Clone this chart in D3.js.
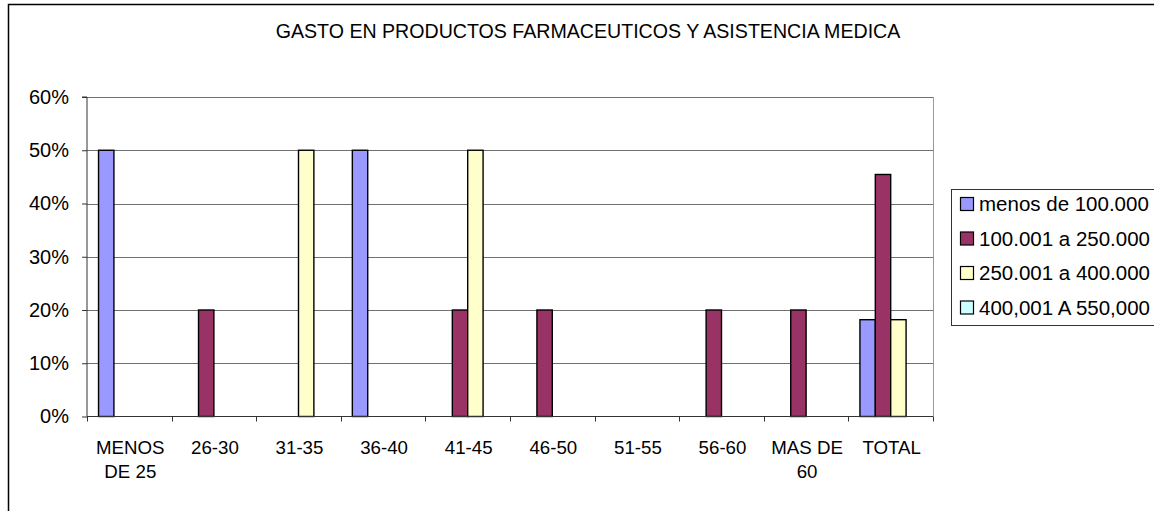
<!DOCTYPE html>
<html>
<head>
<meta charset="utf-8">
<script src="https://cdn.jsdelivr.net/npm/d3@7"></script>
<style>
  html, body { margin: 0; padding: 0; background: #fff; }
  svg { display: block; font-family: "Liberation Sans", Arial, sans-serif; }
</style>
</head>
<body>
<svg id="chart" width="1154" height="511"></svg>
<script>
// Age groups along the x axis (multi-line labels split on "\n")
const categories = ["MENOS\nDE 25", "26-30", "31-35", "36-40", "41-45", "46-50", "51-55", "56-60", "MAS DE\n60", "TOTAL"];

// Income bands (one series each)
const seriesNames = ["menos de 100.000", "100.001 a 250.000", "250.001 a 400.000", "400,001 A 550,000"];
const seriesColors = ["#9999FF", "#993366", "#FFFFCC", "#CCFFFF"];

// Share of respondents per age group, by income band
const menos100 = [0.50, 0, 0, 0.50, 0, 0, 0, 0, 0, 0.1818];
const de100a250 = [0, 0.20, 0, 0, 0.20, 0.20, 0, 0.20, 0.20, 0.4545];
const de250a400 = [0, 0, 0.50, 0, 0.50, 0, 0, 0, 0, 0.1818];
const de400a550 = [0, 0, 0, 0, 0, 0, 0, 0, 0, 0];

const yTicks = [0, 0.1, 0.2, 0.3, 0.4, 0.5, 0.6];
const title = "GASTO EN PRODUCTOS FARMACEUTICOS Y ASISTENCIA MEDICA";

const values = [menos100, de100a250, de250a400, de400a550];

const svg = d3.select("#chart");

// Outer chart frame
svg.append("rect")
  .attr("x", 8.5).attr("y", 4.5)
  .attr("width", 1160).attr("height", 520)
  .attr("fill", "#fff").attr("stroke", "#000").attr("stroke-width", 1.5);

const plot = { left: 87, right: 933, top: 97, bottom: 416.5 };

const x0 = d3.scaleBand()
  .domain(categories)
  .range([plot.left, plot.right])
  .paddingInner(0).paddingOuter(0);

// 150% gap: 4 bars + 1.5 bar widths of gap per category
const x1 = d3.scaleBand()
  .domain(d3.range(seriesNames.length))
  .range([0, x0.bandwidth()])
  .paddingInner(0)
  .paddingOuter(0.75);

const y = d3.scaleLinear().domain([0, 0.6]).range([plot.bottom, plot.top]);

// Title
svg.append("text")
  .attr("x", 588).attr("y", 38)
  .attr("text-anchor", "middle")
  .attr("font-size", 19.6)
  .attr("fill", "#000")
  .text(title);

// Horizontal gridlines
svg.append("g")
  .selectAll("line")
  .data(yTicks.filter(d => d > 0))
  .join("line")
  .attr("x1", plot.left).attr("x2", plot.right)
  .attr("y1", d => Math.round(y(d)) + 0.5).attr("y2", d => Math.round(y(d)) + 0.5)
  .attr("stroke", "#707070").attr("stroke-width", 1);

// Right plot border
svg.append("line")
  .attr("x1", plot.right + 0.5).attr("x2", plot.right + 0.5)
  .attr("y1", plot.top).attr("y2", plot.bottom)
  .attr("stroke", "#999").attr("stroke-width", 1);

// Bars
const groups = svg.append("g")
  .selectAll("g")
  .data(categories)
  .join("g")
  .attr("transform", d => `translate(${x0(d)},0)`);

groups.selectAll("rect")
  .data((d, i) => values.map((s, k) => ({ k, v: s[i] })).filter(e => e.v > 0))
  .join("rect")
  .attr("x", d => x1(d.k))
  .attr("width", x1.bandwidth())
  .attr("y", d => y(d.v))
  .attr("height", d => y(0) - y(d.v))
  .attr("fill", d => seriesColors[d.k])
  .attr("stroke", "#000").attr("stroke-width", 1.4);

// Y axis
const yAxis = d3.axisLeft(y)
  .tickValues(yTicks)
  .tickFormat(d3.format(".0%"))
  .tickSize(5)
  .tickPadding(13);

const gy = svg.append("g")
  .attr("transform", `translate(${plot.left},0)`)
  .call(yAxis);
gy.select(".domain").attr("stroke", "#333").attr("d", `M-5,${plot.top}H0V${plot.bottom}`);
gy.selectAll(".tick line").attr("stroke", "#333");
gy.selectAll(".tick text").attr("font-size", 20).attr("fill", "#000")
  .attr("font-family", "'Liberation Sans', Arial, sans-serif");

// X axis: baseline with ticks at category boundaries
const gx = svg.append("g");
gx.append("line")
  .attr("x1", plot.left).attr("x2", plot.right)
  .attr("y1", plot.bottom).attr("y2", plot.bottom)
  .attr("stroke", "#333");
gx.selectAll("line.tick")
  .data(categories.map(c => x0(c)).concat([plot.right]))
  .join("line")
  .attr("class", "tick")
  .attr("x1", d => Math.round(d) + 0.5).attr("x2", d => Math.round(d) + 0.5)
  .attr("y1", plot.bottom).attr("y2", plot.bottom + 5)
  .attr("stroke", "#333");

const xLabels = gx.selectAll("text")
  .data(categories)
  .join("text")
  .attr("text-anchor", "middle")
  .attr("font-size", 18.7)
  .attr("fill", "#000")
  .attr("transform", d => `translate(${x0(d) + x0.bandwidth() / 2 + 1},454)`);
xLabels.selectAll("tspan")
  .data(d => d.split("\n"))
  .join("tspan")
  .attr("x", 0)
  .attr("dy", (d, i) => i === 0 ? 0 : 24)
  .text(d => d);

// Legend
const legend = svg.append("g");
legend.append("rect")
  .attr("x", 951.5).attr("y", 189.5)
  .attr("width", 260).attr("height", 136)
  .attr("fill", "#fff").attr("stroke", "#333").attr("stroke-width", 1);

const items = legend.selectAll("g.item")
  .data(seriesNames)
  .join("g")
  .attr("class", "item")
  .attr("transform", (d, i) => `translate(960,${204 + i * 34.5})`);
items.append("rect")
  .attr("x", 0.5).attr("y", -6.5)
  .attr("width", 13).attr("height", 13)
  .attr("fill", (d, i) => seriesColors[i])
  .attr("stroke", "#000").attr("stroke-width", 1.2);
items.append("text")
  .attr("x", 19).attr("y", 7)
  .attr("font-size", 20.5)
  .attr("fill", "#000")
  .text(d => d);
</script>
</body>
</html>
